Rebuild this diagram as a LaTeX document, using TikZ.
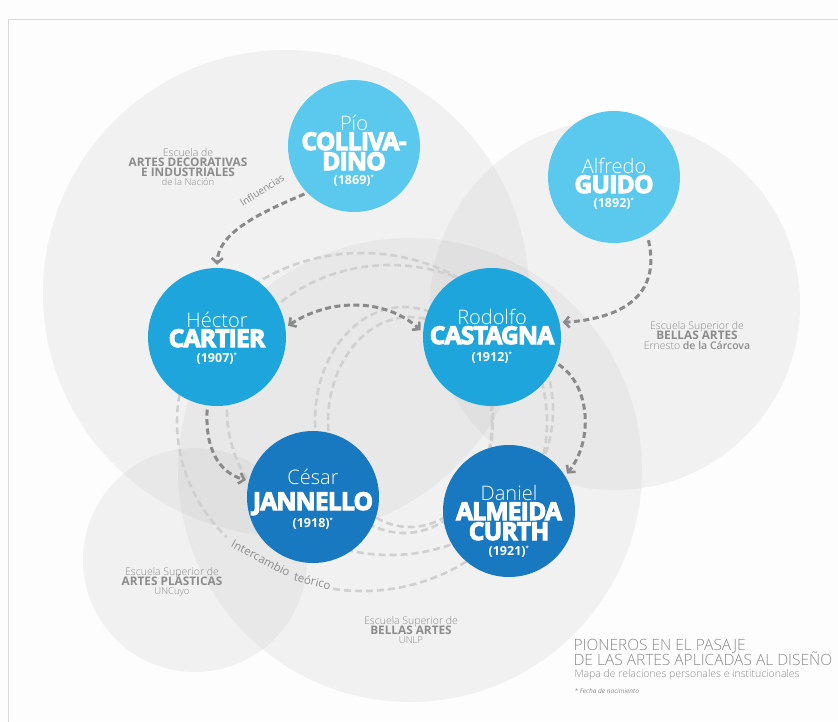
\documentclass[tikz,border=0pt]{standalone}
\usepackage{fontspec}
\setmainfont{Open Sans}
\newfontfamily\lt{Open Sans Light}
\newfontfamily\xb{Open Sans}[LetterSpace=-3]
\usetikzlibrary{arrows.meta}
\definecolor{bgc}{HTML}{FDFDFD}
\definecolor{ringc}{HTML}{C4C4C4}
\definecolor{lb}{HTML}{5BC8EE}
\definecolor{mb}{HTML}{1EA6DC}
\definecolor{db}{HTML}{1878C0}
\definecolor{txg}{HTML}{8C8C8C}
\definecolor{arg}{HTML}{8A8A8A}
\definecolor{lgd}{HTML}{D0D0D0}
\definecolor{frm}{HTML}{D8D8D8}
\newcommand\heavy[1]{\special{pdf:literal direct 2 Tr 1.1 w 1 G 1 g}#1\special{pdf:literal direct 0 Tr}}
\tikzset{
  school/.style={fill=ringc, fill opacity=0.2},
  person/.style={circle, inner sep=0pt, minimum size=132pt},
  fname/.style={anchor=base, text=white, font=\lt\fontsize{20}{20}\selectfont},
  sname/.style={anchor=base, text=white, font=\xb\bfseries\fontsize{24.5}{24}\selectfont},
  yname/.style={anchor=base, text=white, font=\bfseries\fontsize{12.5}{12}\selectfont},
  darr/.style={draw=arg, line width=3pt, dash pattern=on 6pt off 3.5pt, -{Straight Barb[length=5pt,width=11pt,line width=2.6pt]}},
  darrb/.style={draw=arg, line width=3pt, dash pattern=on 6pt off 3.5pt, {Straight Barb[length=5pt,width=11pt,line width=2.6pt]}-{Straight Barb[length=5pt,width=11pt,line width=2.6pt]}},
  ring/.style={draw=lgd, line width=2.6pt, dash pattern=on 7pt off 4pt},
  glab/.style={text=txg, align=center, anchor=base},
  lt11/.style={font=\lt\fontsize{10.5}{10}\selectfont},
  bd12/.style={font=\bfseries\fontsize{11.8}{10}\selectfont},
}
\newcommand\yr[1]{(#1)\textsuperscript{\fontsize{6}{6}\selectfont *}}
\begin{document}
\begin{tikzpicture}[x=1pt,y=-1pt]
\useasboundingbox (0,0) rectangle (838,721);
\fill[bgc] (0,0) rectangle (838,721);
\draw[frm, line width=1pt] (8,740) -- (8,19) -- (850,19);
% school circles
\fill[school] (286,293) circle (243pt);
\fill[school] (615,305) circle (185pt);
\fill[school] (195,560) circle (112pt);
\fill[school] (410,470) circle (232pt);
% school labels
\node[glab, lt11] (sa1) at (188,156) {Escuela de};
\node[glab, bd12] (sa2) at (188,166) {ARTES DECORATIVAS};
\node[glab, bd12] (sa3) at (188,176) {E INDUSTRIALES};
\node[glab, font=\lt\fontsize{9.5}{10}\selectfont] (sa4) at (188,185) {de la Naci\'on};
\node[glab, lt11] (sb1) at (697,329) {Escuela Superior de};
\node[glab, bd12] (sb2) at (697,339) {BELLAS ARTES};
\node[glab, lt11] (sb3) at (697,349) {Ernesto \textbf{de la C\'arcova}};
\node[glab, lt11] (sc1) at (172,575) {Escuela Superior de};
\node[glab, bd12] (sc2) at (172,585) {ARTES PL\'ASTICAS};
\node[glab, font=\lt\fontsize{9.5}{10}\selectfont] (sc3) at (172,594) {UNCuyo};
\node[glab, lt11] (sd1) at (411,624) {Escuela Superior de};
\node[glab, bd12] (sd2) at (411,634) {BELLAS ARTES};
\node[glab, font=\lt\fontsize{9.5}{10}\selectfont] (sd3) at (411,643) {UNLP};
% interchange rings
\draw[ring] (362,422) ++(-99:185pt and 169pt) arc[start angle=-99, end angle=223, x radius=185pt, y radius=169pt];
\draw[ring] (390,410) ellipse (163pt and 145pt);
\draw[ring] (404,420) ellipse (89pt and 113pt);
\draw[ring] (410,422) ellipse (82pt and 105pt);
\node[text=txg, font=\fontsize{11.5}{11}\selectfont, rotate=-28] (it1) at (261,558) {Intercambio};
\node[text=txg, font=\fontsize{11.5}{11}\selectfont, rotate=-14] (it2) at (312.5,581) {te\'orico};
% person circles
\node[person, fill=lb] (coll) at (354,146) {};
\node[person, fill=lb] (guid) at (614,177) {};
\node[person, fill=mb, minimum size=138pt] (cart) at (217,337) {};
\node[person, fill=mb, minimum size=138pt] (cast) at (492,337) {};
\node[person, fill=db] (jann) at (313,497) {};
\node[person, fill=db] (alme) at (509,511) {};
% names
\node[fname] (t1a) at (354,130) {P\'io};
\node[sname] (t1b) at (354,150) {\heavy{COLLIVA-}};
\node[sname] (t1c) at (354,170) {\heavy{DINO}};
\node[yname] (t1d) at (354,184) {\yr{1869}};
\node[fname] (t2a) at (614,173) {Alfredo};
\node[sname] (t2b) at (614,193) {\heavy{GUIDO}};
\node[yname] (t2c) at (614,207) {\yr{1892}};
\node[fname] (t3a) at (217,327) {H\'ector};
\node[sname] (t3b) at (217,347) {\heavy{CARTIER}};
\node[yname] (t3c) at (217,362) {\yr{1907}};
\node[fname] (t4a) at (492,324) {Rodolfo};
\node[sname] (t4b) at (492,344) {\heavy{CASTAGNA}};
\node[yname] (t4c) at (492,361) {\yr{1912}};
\node[fname] (t5a) at (313,484) {C\'esar};
\node[sname] (t5b) at (313,510) {\heavy{JANNELLO}};
\node[yname] (t5c) at (313,527) {\yr{1918}};
\node[fname] (t6a) at (509,500) {Daniel};
\node[sname] (t6b) at (509,520) {\heavy{ALMEIDA}};
\node[sname] (t6c) at (509,540) {\heavy{CURTH}};
\node[yname] (t6d) at (509,555) {\yr{1921}};
% influence arrows
\draw[darr, shorten <=3pt, shorten >=3pt] (coll.225) .. controls (262,212) and (218,232) .. (cart.north);
\node[text=txg, font=\fontsize{10}{10}\selectfont, rotate=33] (inf) at (262,190) {Influencias};
\draw[darr, shorten <=6pt, shorten >=3pt] (guid.-60) .. controls (660,290) and (630,318) .. (cast.12);
\draw[darrb, shorten <=3pt, shorten >=3pt] (cart.8) .. controls (330,298) and (385,298) .. (cast.176);
\draw[darr, shorten <=4pt, shorten >=3pt] (cart.262) .. controls (205,448) and (218,472) .. (jann.166);
\draw[darr, shorten <=3pt, shorten >=3pt] (cast.-22) .. controls (590,385) and (594,440) .. (alme.32);
% title
\node[anchor=base west, text=txg, font=\lt\fontsize{15.5}{15}\selectfont] (ti1) at (570,650) {PIONEROS EN EL PASAJE};
\node[anchor=base west, text=txg, font=\lt\fontsize{15.5}{15}\selectfont] (ti2) at (570,665) {DE LAS ARTES APLICADAS AL DISE\~NO};
\node[anchor=base west, text=txg, font=\lt\fontsize{10.5}{10}\selectfont] (ti3) at (571,677) {Mapa de relaciones personales e institucionales};
\node[anchor=base west, text=txg, font=\itshape\fontsize{6.5}{6}\selectfont] (ti4) at (571,693) {* Fecha de nacimiento};
\end{tikzpicture}
\end{document}
